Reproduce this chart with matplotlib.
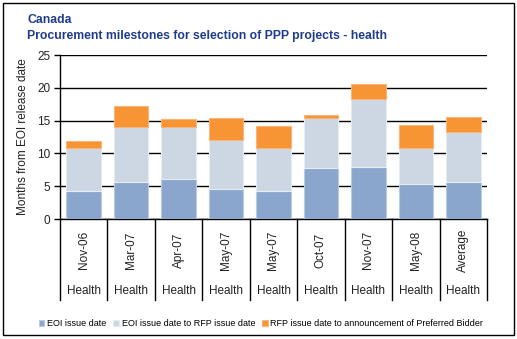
import matplotlib
matplotlib.use("Agg")
import matplotlib.pyplot as plt
from matplotlib.lines import Line2D
from matplotlib.patches import Rectangle
import matplotlib.transforms as mtrans
import numpy as np

plt.rcParams['font.family'] = ['Liberation Sans', 'DejaVu Sans']

# Data
dates = ["Nov-06", "Mar-07", "Apr-07", "May-07", "May-07", "Oct-07", "Nov-07", "May-08", "Average"]
sector = ["Health"] * 9
eoi_issue = [4.2, 5.7, 6.05, 4.5, 4.2, 7.7, 8.0, 5.3, 5.7]
eoi_to_rfp = [6.6, 8.3, 8.0, 7.5, 6.6, 7.65, 10.35, 5.5, 7.5]
rfp_to_bidder = [1.1, 3.2, 1.2, 3.35, 3.35, 0.45, 2.25, 3.5, 2.35]
series_names = ["EOI issue date", "EOI issue date to RFP issue date",
                "RFP issue date to announcement of Preferred Bidder"]

colors = ["#8aa6cc", "#cdd7e3", "#f79433"]
edges = ["#b9cbe3", "#e6ecf3", "#f9b57a"]
title_color = "#1f3b8c"

W, H = 517, 339
fig = plt.figure(figsize=(W / 100, H / 100), dpi=100)

# outer frame
fig.patches.append(Rectangle((3 / W, 4 / H), (514 - 3) / W, (336 - 4) / H,
                             transform=fig.transFigure, fill=False,
                             edgecolor="black", linewidth=1.0))

fig.text(27 / W, 1 - 20 / H, "Canada", color=title_color, fontsize=8.8,
         fontweight="bold", va="center", ha="left")
fig.text(27 / W, 1 - 36 / H, "Procurement milestones for selection of PPP projects - health",
         color=title_color, fontsize=8.8, fontweight="bold", va="center", ha="left")

left, right, top, bottom = 60, 487, 55, 219
ax = fig.add_axes([left / W, 1 - bottom / H, (right - left) / W, (bottom - top) / H])

x = np.arange(len(dates))
bw = 0.73
b1 = np.array(eoi_issue)
b2 = b1 + np.array(eoi_to_rfp)
ax.bar(x, eoi_issue, bw, color=colors[0], edgecolor=edges[0], linewidth=0.8,
       label=series_names[0], zorder=3)
ax.bar(x, eoi_to_rfp, bw, bottom=b1, color=colors[1], edgecolor=edges[1], linewidth=0.8,
       label=series_names[1], zorder=3)
ax.bar(x, rfp_to_bidder, bw, bottom=b2, color=colors[2], edgecolor=edges[2], linewidth=0.8,
       label=series_names[2], zorder=3)

ax.set_xlim(-0.5, len(dates) - 0.5)
ax.set_ylim(0, 25)
ax.set_yticks(np.arange(0, 26, 5))
ax.yaxis.grid(True, color="black", linewidth=1.0, zorder=0)
ax.set_axisbelow(True)
for s in ["top", "right"]:
    ax.spines[s].set_visible(False)
ax.spines["left"].set_linewidth(1.0)
ax.spines["bottom"].set_linewidth(1.0)
ax.tick_params(axis="y", length=4, width=1.0, labelsize=8.5, colors="black", pad=3)
ax.tick_params(axis="y", labelcolor="#222222")
ax.set_ylabel("Months from EOI release date", fontsize=8.5, color="#222222", labelpad=6)

# two-level category axis
ax.set_xticks(x)
ax.set_xticklabels([])
ax.tick_params(axis="x", length=0)
trans = mtrans.blended_transform_factory(ax.transData, ax.transAxes)
axh = bottom - top
for i, (d, s) in enumerate(zip(dates, sector)):
    ax.text(i, -(250 - bottom) / axh, d, rotation=90, ha="center", va="center",
            fontsize=8.5, color="#222222", transform=trans)
    ax.text(i, -(291 - bottom) / axh, s, ha="center", va="center",
            fontsize=8.5, color="#222222", transform=trans)
for b in np.arange(-0.5, len(dates), 1.0):
    ax.add_line(Line2D([b, b], [0, -(300 - bottom) / axh], color="black",
                       linewidth=1.0, transform=trans, clip_on=False))

fig.legend(loc="center", bbox_to_anchor=(261 / W, 1 - 324 / H), ncol=3, frameon=False,
           fontsize=6.5, handlelength=0.6, handleheight=0.6, handletextpad=0.3,
           columnspacing=0.8, borderaxespad=0)

fig.savefig("out.png", dpi=100)
